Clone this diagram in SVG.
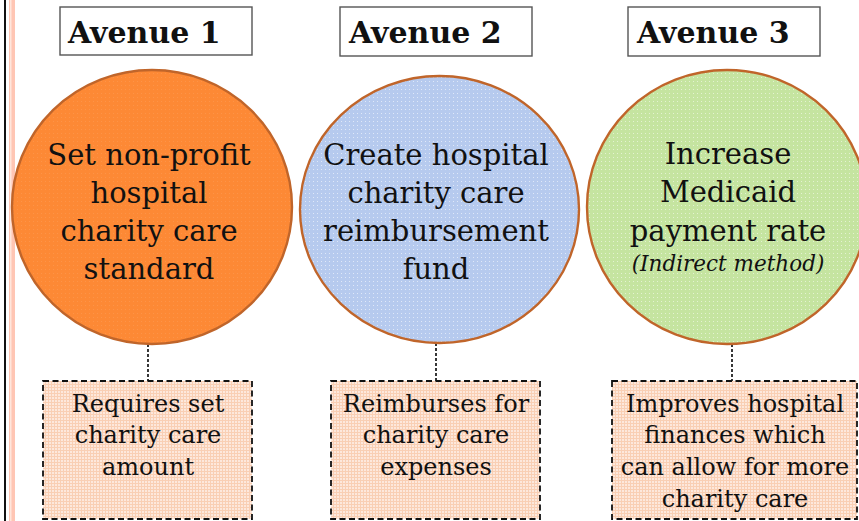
<svg xmlns="http://www.w3.org/2000/svg" width="859" height="521" viewBox="0 0 859 521">
<defs>
<pattern id="pBlue" width="4" height="4" patternUnits="userSpaceOnUse"><rect width="4" height="4" fill="#b6caee"/><rect x="1" y="1" width="1" height="1" fill="#dfe8f8"/></pattern>
<pattern id="pGreen" width="4" height="4" patternUnits="userSpaceOnUse"><rect width="4" height="4" fill="#c5e4a0"/><rect x="1" y="1" width="1" height="1" fill="#e4f2d2"/></pattern>
<pattern id="pOrange" width="4" height="4" patternUnits="userSpaceOnUse"><rect width="4" height="4" fill="#fd8935"/><rect x="1" y="1" width="1" height="1" fill="#fd9448"/></pattern>
<pattern id="pPeach" width="3" height="3" patternUnits="userSpaceOnUse"><rect width="3" height="3" fill="#fde8dc"/><rect x="0" y="0" width="3" height="1" fill="#f9cfb4"/><rect x="0" y="0" width="1" height="3" fill="#f9cfb4"/></pattern>
</defs>
<style>
.av{fill:#fff;stroke:#555;stroke-width:1.4}
.avt{font-family:"DejaVu Serif",serif;font-weight:bold;font-size:30px;fill:#111}
.circ{stroke:#c0652a;stroke-width:2.4}
.ct{font-family:"DejaVu Serif",serif;font-size:29px;fill:#111;text-anchor:middle}
.it{font-family:"DejaVu Serif",serif;font-style:italic;font-size:21.5px;fill:#111;text-anchor:middle}
.bx{fill:url(#pPeach);stroke:#111;stroke-width:1.8;stroke-dasharray:6 3.5}
.bt{font-family:"DejaVu Serif",serif;font-size:24px;fill:#111;text-anchor:middle}
.con{stroke:#222;stroke-width:1.8;stroke-dasharray:3 2;fill:none}
</style>
<rect width="859" height="521" fill="#fff"/>
<rect x="4" y="0" width="2" height="521" fill="#111"/>
<rect x="9" y="0" width="6" height="521" fill="#ffc6b4"/>
<rect x="10" y="0" width="1.5" height="521" fill="#ffe6dc"/>
<g id="connectors">
<line class="con" x1="148" y1="344" x2="148" y2="381"/>
<line class="con" x1="436" y1="343" x2="436" y2="381"/>
<line class="con" x1="732" y1="344" x2="732" y2="381"/>
</g>
<g id="avenue1"><rect class="av" x="60" y="7" width="192" height="48"/><text class="avt" x="68" y="43">Avenue 1</text></g>
<g id="avenue2"><rect class="av" x="340" y="7" width="192" height="49"/><text class="avt" x="349" y="43">Avenue 2</text></g>
<g id="avenue3"><rect class="av" x="628" y="7" width="192" height="49"/><text class="avt" x="637" y="43">Avenue 3</text></g>
<g id="circle1"><ellipse class="circ" cx="152" cy="207" rx="140" ry="137" fill="url(#pOrange)"/>
<text class="ct"><tspan x="149" y="165">Set non-profit</tspan><tspan x="149" y="203">hospital</tspan><tspan x="149" y="241">charity care</tspan><tspan x="149" y="279">standard</tspan></text></g>
<g id="circle2"><ellipse class="circ" cx="439.5" cy="209.5" rx="139.5" ry="133.5" fill="url(#pBlue)"/>
<text class="ct"><tspan x="436" y="165">Create hospital</tspan><tspan x="436" y="203">charity care</tspan><tspan x="436" y="241">reimbursement</tspan><tspan x="436" y="279">fund</tspan></text></g>
<g id="circle3"><ellipse class="circ" cx="727" cy="207" rx="140" ry="137" fill="url(#pGreen)"/>
<text class="ct"><tspan x="728" y="164">Increase</tspan><tspan x="728" y="202">Medicaid</tspan><tspan x="728" y="241">payment rate</tspan></text>
<text class="it" x="728" y="271">(Indirect method)</text></g>
<g id="box1"><rect class="bx" x="43" y="381" width="209" height="138"/>
<text class="bt"><tspan x="148" y="412">Requires set</tspan><tspan x="148" y="443">charity care</tspan><tspan x="148" y="475">amount</tspan></text></g>
<g id="box2"><rect class="bx" x="331" y="381" width="209" height="138"/>
<text class="bt"><tspan x="436" y="412">Reimburses for</tspan><tspan x="436" y="443">charity care</tspan><tspan x="436" y="475">expenses</tspan></text></g>
<g id="box3"><rect class="bx" x="612" y="381" width="245" height="138"/>
<text class="bt"><tspan x="735" y="412">Improves hospital</tspan><tspan x="735" y="443">finances which</tspan><tspan x="735" y="475">can allow for more</tspan><tspan x="735" y="507">charity care</tspan></text></g>
</svg>
